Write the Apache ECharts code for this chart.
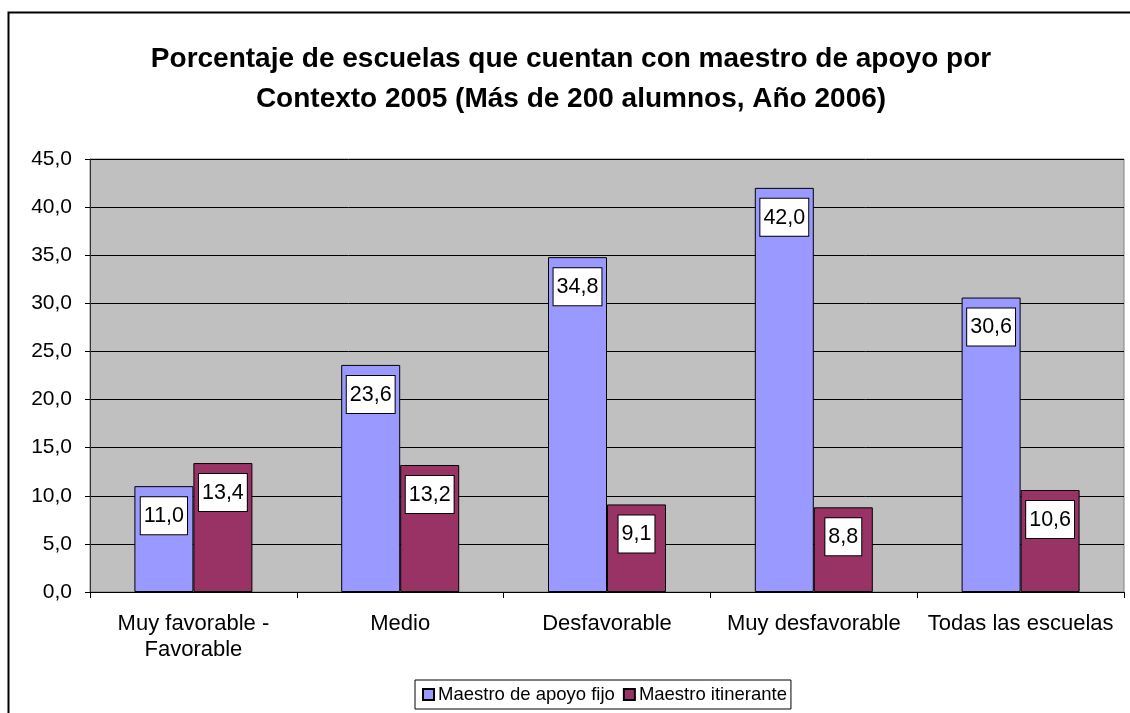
<!DOCTYPE html>
<html lang="es">
<head>
	<meta charset="UTF-8">
	<title>Maestro de apoyo por contexto</title>
	<script src="https://cdn.jsdelivr.net/npm/echarts@6/dist/echarts.min.js"></script>
	<style>
		html, body { margin: 0; padding: 0; background: #fff; }
	</style>
</head>
<body>
	<div id="main" style="width:1130px;height:713px;"></div>
	<script type="text/javascript">
        // datos del gráfico
        var categorias = ['Muy favorable -\nFavorable', 'Medio', 'Desfavorable', 'Muy desfavorable', 'Todas las escuelas'];
        var apoyoFijo = [11.0, 23.6, 34.8, 42.0, 30.6];
        var itinerante = [13.4, 13.2, 9.1, 8.8, 10.6];
        var nombresSeries = ['Maestro de apoyo fijo', 'Maestro itinerante'];

        var fuente = 'Arial, "Liberation Sans", sans-serif';

        function coma(v) {
            return v.toFixed(1).replace('.', ',');
        }

        var etiqueta = {
            show: true,
            position: 'insideTop',
            distance: 11,
            formatter: function (p) { return coma(p.value); },
            color: '#000',
            fontFamily: fuente,
            fontSize: 21.5,
            lineHeight: 22,
            backgroundColor: '#fff',
            borderColor: '#000',
            borderWidth: 1,
            padding: [8, 3, 7, 3]
        };

        var myChart = echarts.init(document.getElementById('main'));
        myChart.setOption({
            animation: false,
            title: {
                text: 'Porcentaje de escuelas que cuentan con maestro de apoyo por\nContexto 2005 (Más de 200 alumnos, Año 2006)',
                left: 566,
                top: 34,
                textAlign: 'center',
                textStyle: {
                    fontFamily: fuente,
                    fontSize: 28,
                    fontWeight: 'bold',
                    color: '#000',
                    lineHeight: 40
                }
            },
            graphic: [{
                type: 'rect',
                shape: { x: 8.5, y: 12.5, width: 1200, height: 800 },
                style: { fill: null, stroke: '#000', lineWidth: 2 },
                silent: true,
                z: -10
            }],
            legend: {
                data: nombresSeries,
                left: 415,
                top: 680,
                itemWidth: 11,
                itemHeight: 11,
                itemGap: 8,
                padding: [5, 4, 5, 7],
                borderColor: '#000',
                borderWidth: 1,
                icon: 'rect',
                textStyle: { fontFamily: fuente, fontSize: 18.5, color: '#000', padding: [0, 0, 0, -1] }
            },
            grid: {
                left: 90,
                right: 6,
                top: 159,
                bottom: 121,
                show: true,
                backgroundColor: '#C0C0C0',
                borderColor: '#808080',
                borderWidth: 1
            },
            xAxis: {
                type: 'category',
                data: categorias,
                axisLine: { lineStyle: { color: '#000', width: 1 } },
                axisTick: { show: true, length: 6, lineStyle: { color: '#000' } },
                axisLabel: {
                    color: '#000',
                    fontFamily: fuente,
                    fontSize: 22,
                    lineHeight: 26,
                    margin: 19,
                    interval: 0
                }
            },
            yAxis: {
                type: 'value',
                min: 0,
                max: 45,
                interval: 5,
                axisLine: { show: true, lineStyle: { color: '#333' } },
                axisTick: { show: true, length: 5, lineStyle: { color: '#000' } },
                splitLine: { lineStyle: { color: '#000', width: 1 } },
                axisLabel: {
                    color: '#000',
                    fontFamily: fuente,
                    fontSize: 21,
                    margin: 18,
                    formatter: function (v) { return coma(v); }
                }
            },
            series: [{
                name: nombresSeries[0],
                type: 'bar',
                data: apoyoFijo,
                barWidth: 59,
                barGap: '0%',
                itemStyle: { color: '#9999FF', borderColor: '#000', borderWidth: 1 },
                label: etiqueta
            }, {
                name: nombresSeries[1],
                type: 'bar',
                data: itinerante,
                barWidth: 59,
                barGap: '0%',
                itemStyle: { color: '#993366', borderColor: '#000', borderWidth: 1 },
                label: etiqueta
            }]
        });
    </script>
</body>
</html>
